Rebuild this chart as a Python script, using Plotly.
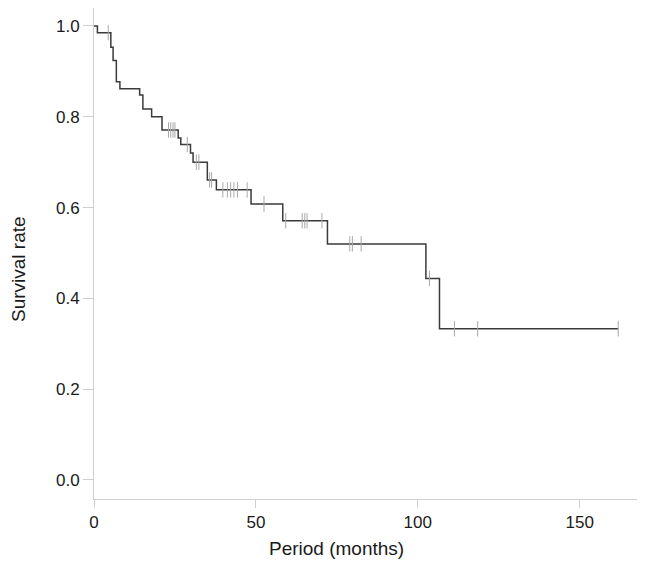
import plotly.graph_objects as go
import bisect

# Kaplan-Meier step data (months, survival)
step_times = [0, 1.05, 5.2, 5.9, 6.9, 8.0, 14.1, 15.1, 17.8, 21.0, 26.0, 26.8,
              29.8, 30.6, 35.0, 37.8, 48.5, 58.3, 72.1, 102.5, 106.7]
step_surv = [1.0, 0.985, 0.953, 0.924, 0.877, 0.862, 0.848, 0.817, 0.800, 0.771,
             0.753, 0.739, 0.720, 0.700, 0.661, 0.639, 0.608, 0.571, 0.520,
             0.444, 0.333]
end_time = 161.9

censor_times = [4.4, 23.0, 23.7, 24.4, 25.0, 28.8, 31.6, 32.4, 35.7, 36.3,
                39.8, 41.2, 42.2, 43.2, 44.3, 47.3, 52.5, 59.2, 64.3, 65.1,
                65.8, 70.4, 79.0, 79.8, 82.5, 103.6, 111.3, 118.5, 161.9]

x_ticks = [0, 50, 100, 150]
y_ticks = [0.0, 0.2, 0.4, 0.6, 0.8, 1.0]
y_tick_labels = ["0.0", "0.2", "0.4", "0.6", "0.8", "1.0"]


def surv_at(t):
    i = bisect.bisect_right(step_times, t) - 1
    return step_surv[i]


line_x = step_times + [end_time]
line_y = step_surv + [step_surv[-1]]
censor_y = [surv_at(t) for t in censor_times]

fig = go.Figure()
fig.add_trace(go.Scatter(
    x=line_x, y=line_y, mode="lines", line_shape="hv",
    line=dict(color="#3a3a3a", width=1.5), hoverinfo="skip", showlegend=False))
fig.add_trace(go.Scatter(
    x=censor_times, y=censor_y, mode="markers",
    marker=dict(symbol="line-ns", size=11, line=dict(color="#a8a8a8", width=1)),
    showlegend=False))

# page has an 8px body margin, so the figure is sized 638x558
W, H = 638, 558
L, R, T, B = 86, 9, 0, 67
font_family = "Liberation Sans, Arial, sans-serif"
fig.update_layout(
    width=W, height=H,
    margin=dict(l=L, r=R, t=T, b=B, pad=0),
    paper_bgcolor="white", plot_bgcolor="white",
    font=dict(family=font_family, size=17, color="#1a1a1a"),
    xaxis=dict(range=[0, 167.7], tickvals=x_ticks, showgrid=False, zeroline=False,
               showline=True, linecolor="#cfcfcf", linewidth=1,
               ticks="outside", ticklen=8, tickcolor="#cfcfcf",
               tickfont=dict(size=17)),
    yaxis=dict(range=[-0.0419, 1.0396], tickvals=y_ticks, ticktext=y_tick_labels,
               showgrid=False, zeroline=False,
               showline=True, linecolor="#cfcfcf", linewidth=1,
               ticks="outside", ticklen=10, tickcolor="#cfcfcf",
               tickfont=dict(size=17)),
)
pw, ph = W - L - R, H - T - B
titles = [("Period (months)", 328, 540, 0), ("Survival rate", 10, 261, -90)]
for text, px, py, ang in titles:
    fig.add_annotation(text=text, x=(px - L) / pw, y=1 - (py - T) / ph,
                       xref="paper", yref="paper", showarrow=False,
                       xanchor="center", yanchor="middle",
                       textangle=ang, font=dict(size=19))

fig.write_html("out.html")
